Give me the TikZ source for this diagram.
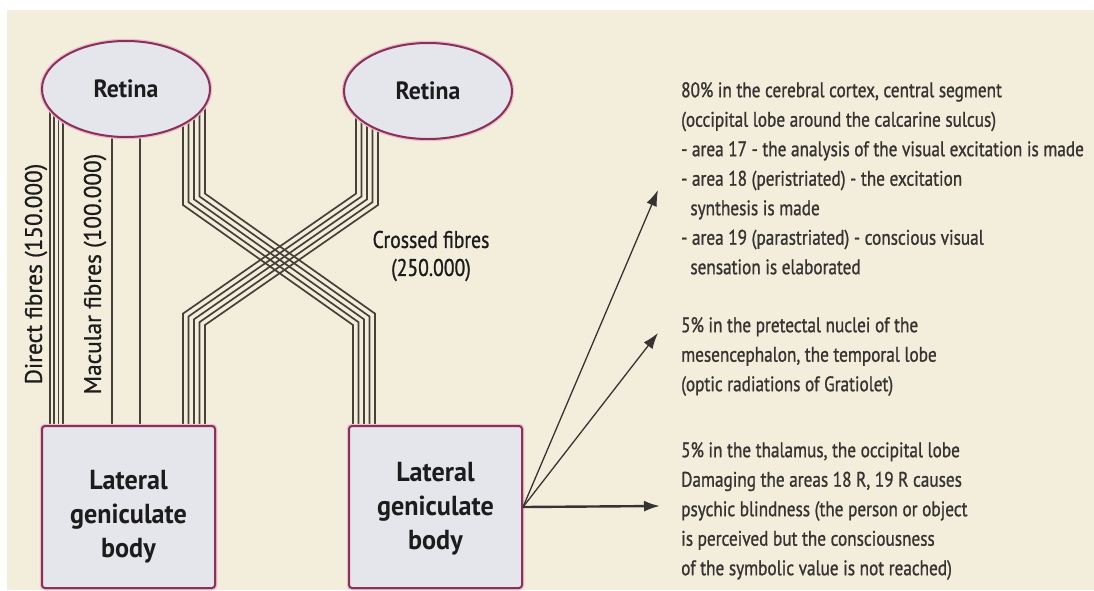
\documentclass[tikz,border=0pt]{standalone}
\usepackage{fontspec}
\setmainfont{PT Sans}
\newfontfamily\rtfont[FakeStretch=0.82,FakeBold=1.0]{PT Sans}
\newfontfamily\sdfont[FakeStretch=0.97,FakeBold=0.8]{PT Sans}
\newfontfamily\lbfont[FakeStretch=0.95]{PT Sans}
\usetikzlibrary{arrows.meta,calc,shapes.geometric}
\pgfdeclarelayer{bg}\pgfdeclarelayer{fib}
\pgfsetlayers{bg,fib,main}
\definecolor{cream}{HTML}{F3EEDB}
\definecolor{shapefill}{HTML}{E5E6EB}
\definecolor{rim}{HTML}{8B3059}
\definecolor{halo}{HTML}{E9BFCD}
\definecolor{fibc}{HTML}{464039}
\definecolor{txt}{HTML}{363432}
\definecolor{dark}{HTML}{1C1C1C}
\begin{document}
\begin{tikzpicture}[x=1pt,y=-1pt,
 retina/.style={ellipse, fill=shapefill, draw=rim, line width=2pt,
   preaction={draw=halo, line width=4.5pt},
   minimum width=168pt, minimum height=96pt, inner sep=0pt,
   font=\lbfont\bfseries\fontsize{25}{29}\selectfont, text=dark},
 lgbbox/.style={rectangle, rounded corners=3pt, fill=shapefill, draw=rim, line width=2pt,
   preaction={draw=halo, line width=4.5pt},
   minimum width=173pt, minimum height=162pt, inner sep=0pt},
 lgbtext/.style={align=center, inner sep=0pt, text=dark,
   font=\lbfont\bfseries\fontsize{27.5}{34}\selectfont},
 fibre/.style={draw=fibc, line width=1.7pt},
 arr/.style={draw=txt, line width=1.3pt, -{Latex[length=16pt,width=11pt]}},
 info/.style={align=left, anchor=north west, inner sep=0pt, text=txt,
   font=\rtfont\fontsize{21}{29.5}\selectfont},
 sidelab/.style={rotate=90, inner sep=0pt, text=dark,
   font=\sdfont\fontsize{24}{28}\selectfont},
 crosslab/.style={align=center, inner sep=0pt, text=dark,
   font=\rtfont\fontsize{24}{28}\selectfont},
]
\useasboundingbox (0,0) rectangle (1094,590);
\begin{pgfonlayer}{bg}
  \fill[white] (0,0) rectangle (1094,590);
  \fill[cream] (7,10) rectangle (1094,590);
\end{pgfonlayer}

% main shapes
\node[retina] (retL) at (126,89) {Retina};
\node[retina] (retR) at (428,91) {Retina};
\node[lgbbox] (lgbL) at (128.5,507) {};
\node[lgbbox] (lgbR) at (435.5,507) {};
\node[lgbtext] (lgbLt) at (128.5,517) {Lateral\\geniculate\\body};
\node[lgbtext] (lgbRt) at (435.5,509) {Lateral\\geniculate\\body};

% bend coordinates of the crossed bundles
\coordinate (crLtop) at (183,205);
\coordinate (crLbot) at (353,325);
\coordinate (crRtop) at (378,205);
\coordinate (crRbot) at (205,325);

\begin{pgfonlayer}{fib}
  % direct fibres
  \foreach \x in {50,54.3,58.6,62.9}
    \draw[fibre] (\x,0 |- retL.center) -- (\x,0 |- lgbL.north);
  % macular fibres
  \foreach \x in {112,140}
    \draw[fibre] (\x,0 |- retL.center) -- (\x,0 |- lgbL.north);
  % crossed fibres from left retina to right body
  \foreach \s in {0,5.5,11,16.5,22}{
    \path ($(crLtop)+(\s,-0.518*\s)$) coordinate (a1)
          ($(crLbot)+(\s,-0.518*\s)$) coordinate (a2);
    \draw[fibre] (a1 |- retL.center) -- (a1) -- (a2) -- (a2 |- lgbR.north);
  }
  % crossed fibres from right retina to left body
  \foreach \s in {0,5.5,11,16.5,22}{
    \path ($(crRtop)+(-\s,-0.518*\s)$) coordinate (b1)
          ($(crRbot)+(-\s,-0.518*\s)$) coordinate (b2);
    \draw[fibre] (b1 |- retR.center) -- (b1) -- (b2) -- (b2 |- lgbL.north);
  }
\end{pgfonlayer}

% labels on fibres
\node[sidelab] (dirlab) at (36,274) {Direct fibres (150.000)};
\node[sidelab] (maclab) at (95,274) {Macular fibres (100.000)};
\node[crosslab] (croslab) at (431,256) {Crossed fibres\\(250.000)};

% outputs
\coordinate (t1) at (658,190);
\coordinate (t2) at (658,333);
\coordinate (t3) at (660,506);
\draw[arr] (lgbR.east) -- (t1);
\draw[arr] (lgbR.east) -- (t2);
\draw[arr, line width=2.4pt] (lgbR.east) -- (t3);

\node[info] (info1) at (681,82) {80\% in the cerebral cortex, central segment\\
(occipital lobe around the calcarine sulcus)\\
- area 17 - the analysis of the visual excitation is made\\
- area 18 (peristriated) - the excitation\\
\ \ synthesis is made\\
- area 19 (parastriated) - conscious visual\\
\ \ sensation is elaborated};
\node[info] (info2) at (681,317) {5\% in the pretectal nuclei of the\\
mesencephalon, the temporal lobe\\
(optic radiations of Gratiolet)};
\node[info] (info3) at (681,442) {5\% in the thalamus, the occipital lobe\\
Damaging the areas 18 R, 19 R causes\\
psychic blindness (the person or object\\
is perceived but the consciousness\\
of the symbolic value is not reached)};
\end{tikzpicture}
\end{document}
